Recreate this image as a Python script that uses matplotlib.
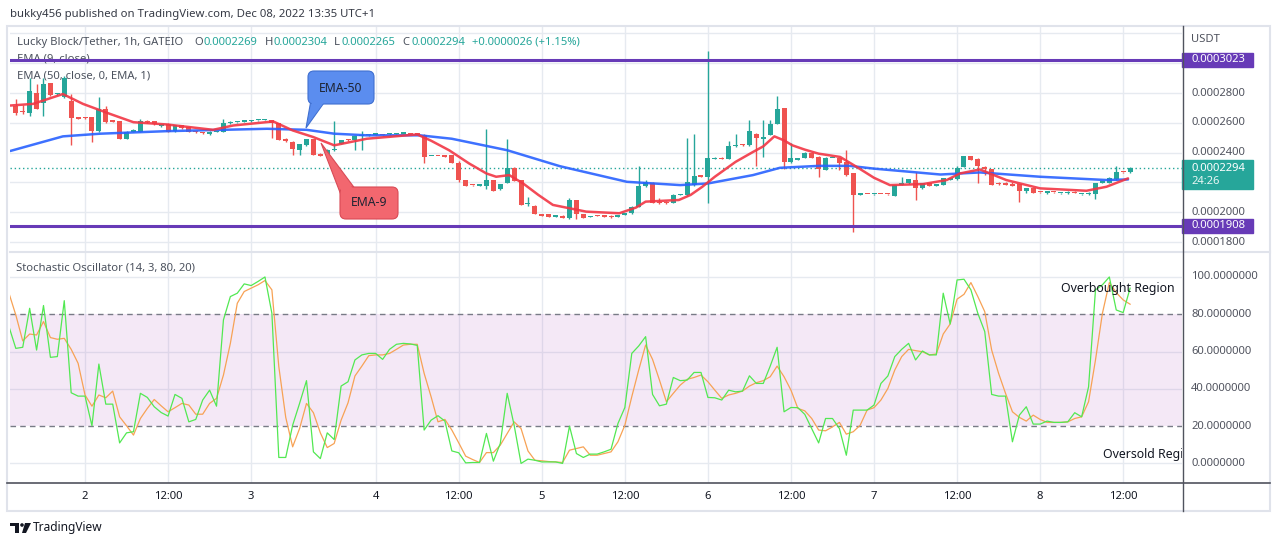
import numpy as np
import matplotlib
matplotlib.use("Agg")
import matplotlib.pyplot as plt
from matplotlib.patches import Rectangle, FancyBboxPatch, Polygon, Circle

plt.rcParams['font.family'] = ['Noto Sans', 'DejaVu Sans']

W, H = 1280, 546
U = 1e-7  # price unit used in the arrays below

# ---------------- data (prices in units of 1e-7 USDT) ----------------
opens = [2716, 2682, 2665, 2800, 2731, 2864, 2790, 2771, 2749, 2638,
         2636, 2638, 2544, 2693, 2611, 2609, 2493, 2540, 2538, 2612,
         2609, 2580, 2593, 2545, 2582, 2571, 2545, 2535, 2522, 2538,
         2538, 2600, 2604, 2608, 2609, 2616, 2618, 2616, 2598, 2493,
         2471, 2416, 2449, 2489, 2393, 2387, 2416, 2460, 2489, 2482,
         2509, 2515, 2520, 2517, 2522, 2526, 2527, 2523, 2523, 2516,
         2378, 2378, 2382, 2382, 2333, 2216, 2181, 2179, 2178, 2216,
         2153, 2198, 2298, 2216, 2053, 2044, 1989, 1987, 1970, 1976,
         1960, 2082, 1989, 1969, 1977, 1972, 1976, 1967, 1982, 1993,
         2038, 2178, 2198, 2071, 2071, 2064, 2116, 2116, 2182, 2249,
         2238, 2358, 2367, 2358, 2442, 2455, 2449, 2527, 2493, 2520,
         2593, 2700, 2338, 2353, 2367, 2400, 2371, 2282, 2363, 2364,
         2338, 2260, 2118, 2123, 2119, 2123, 2123, 2111, 2182, 2193,
         2216, 2160, 2193, 2176, 2182, 2216, 2220, 2304, 2376, 2360,
         2304, 2287, 2198, 2198, 2189, 2189, 2144, 2160, 2134, 2127,
         2134, 2126, 2127, 2132, 2121, 2120, 2122, 2198, 2198, 2220,
         2270, 2269]
highs = [2760, 2720, 2904, 2860, 2904, 2870, 2800, 2915, 2793, 2640,
         2640, 2640, 2771, 2710, 2612, 2612, 2545, 2560, 2625, 2618,
         2612, 2595, 2600, 2585, 2585, 2575, 2548, 2540, 2545, 2546,
         2627, 2612, 2608, 2612, 2618, 2620, 2624, 2620, 2600, 2495,
         2475, 2460, 2490, 2490, 2395, 2425, 2609, 2485, 2490, 2510,
         2544, 2518, 2524, 2518, 2530, 2530, 2530, 2524, 2525, 2525,
         2380, 2380, 2384, 2385, 2342, 2218, 2183, 2183, 2556, 2218,
         2192, 2489, 2305, 2218, 2104, 2046, 1991, 1989, 1973, 1978,
         2093, 2085, 1991, 1973, 1978, 1973, 1978, 1984, 1998, 2045,
         2309, 2216, 2204, 2093, 2075, 2120, 2125, 2498, 2527, 2252,
         3082, 2370, 2369, 2476, 2527, 2460, 2622, 2530, 2620, 2622,
         2782, 2702, 2464, 2367, 2405, 2402, 2375, 2370, 2366, 2366,
         2416, 2262, 2124, 2124, 2124, 2124, 2124, 2185, 2238, 2222,
         2271, 2195, 2195, 2190, 2230, 2230, 2310, 2380, 2378, 2362,
         2311, 2290, 2200, 2200, 2204, 2192, 2162, 2162, 2136, 2144,
         2136, 2129, 2140, 2140, 2125, 2133, 2198, 2206, 2233, 2311,
         2272, 2304]
lows = [2655, 2660, 2649, 2690, 2649, 2780, 2785, 2765, 2449, 2625,
        2627, 2471, 2540, 2600, 2605, 2490, 2490, 2535, 2535, 2600,
        2585, 2570, 2535, 2540, 2560, 2535, 2530, 2525, 2520, 2535,
        2535, 2595, 2602, 2606, 2608, 2614, 2617, 2500, 2485, 2470,
        2387, 2387, 2445, 2385, 2375, 2385, 2412, 2455, 2478, 2416,
        2416, 2512, 2519, 2514, 2520, 2524, 2526, 2521, 2520, 2327,
        2376, 2376, 2370, 2330, 2204, 2176, 2179, 2178, 2153, 2140,
        2150, 2195, 2208, 2047, 2044, 1985, 1975, 1966, 1969, 1958,
        1956, 1953, 1958, 1968, 1974, 1969, 1964, 1965, 1980, 1990,
        2035, 2170, 2060, 2058, 2058, 2062, 2114, 2112, 2178, 2236,
        2064, 2355, 2355, 2355, 2440, 2447, 2446, 2309, 2371, 2515,
        2590, 2287, 2330, 2350, 2364, 2364, 2238, 2280, 2361, 2282,
        2245, 1864, 2117, 2120, 2118, 2120, 2115, 2109, 2180, 2190,
        2082, 2158, 2176, 2174, 2180, 2214, 2218, 2302, 2352, 2193,
        2249, 2180, 2186, 2180, 2176, 2071, 2131, 2129, 2130, 2125,
        2130, 2124, 2125, 2128, 2118, 2118, 2089, 2196, 2196, 2218,
        2264, 2265]
closes = [2664, 2671, 2815, 2693, 2860, 2787, 2795, 2900, 2633, 2627,
          2630, 2544, 2693, 2604, 2607, 2493, 2538, 2555, 2615, 2605,
          2590, 2585, 2538, 2582, 2565, 2538, 2535, 2530, 2540, 2544,
          2598, 2607, 2605, 2609, 2616, 2617, 2621, 2598, 2487, 2476,
          2427, 2456, 2489, 2387, 2378, 2420, 2420, 2482, 2482, 2509,
          2516, 2516, 2522, 2516, 2527, 2528, 2528, 2522, 2521, 2371,
          2379, 2377, 2371, 2331, 2216, 2178, 2180, 2182, 2216, 2144,
          2189, 2298, 2211, 2049, 2060, 1987, 1977, 1968, 1972, 1960,
          2082, 1989, 1962, 1971, 1975, 1970, 1966, 1982, 1993, 2038,
          2178, 2204, 2064, 2060, 2060, 2116, 2122, 2204, 2242, 2238,
          2364, 2367, 2358, 2442, 2449, 2449, 2544, 2500, 2495, 2593,
          2693, 2338, 2367, 2364, 2400, 2367, 2287, 2364, 2365, 2331,
          2249, 2116, 2120, 2121, 2121, 2121, 2120, 2182, 2198, 2220,
          2164, 2193, 2178, 2187, 2227, 2227, 2298, 2376, 2353, 2309,
          2287, 2182, 2187, 2182, 2178, 2144, 2160, 2131, 2133, 2142,
          2133, 2128, 2138, 2130, 2123, 2131, 2193, 2204, 2231, 2271,
          2267, 2294]

# EMA readings (bar index, value)
ema9_x = [-0.8, 2.5, 6.8, 9.7, 13.6, 17, 21.8, 28.5, 31.4, 37.2, 40, 43, 46,
          50.7, 58, 60, 62.6, 65.5, 68, 69.4, 71.3, 73.3, 75.5, 77.6, 82.4,
          87.2, 89.6, 91, 95.8, 97.5, 99.2, 101, 104, 106.5, 108, 109.6, 111,
          112.2, 114, 116, 119.1, 121.5, 124, 126.3, 131.1, 134.5, 136.4,
          139.3, 143.1, 148, 154.7, 157.6, 160.7]
ema9_y = [2716, 2727, 2793, 2727, 2660, 2604, 2589, 2553, 2582, 2609, 2549,
          2504, 2449, 2493, 2522, 2480, 2416, 2327, 2260, 2238, 2249, 2193,
          2116, 2049, 2004, 1993, 2031, 2071, 2082, 2116, 2171, 2238, 2338,
          2404, 2442, 2509, 2482, 2449, 2420, 2393, 2371, 2304, 2231, 2182,
          2189, 2216, 2260, 2287, 2216, 2160, 2144, 2171, 2227]
ema50_x = [-0.8, 6.8, 12.2, 21.8, 36.3, 42, 46, 50.7, 58.4, 63, 71, 78.6,
           88.3, 96, 100, 106.5, 110.4, 116, 120.5, 123.9, 133.6, 139.3,
           148, 157.6, 160.7]
ema50_y = [2411, 2509, 2527, 2544, 2560, 2553, 2527, 2516, 2516, 2493, 2416,
           2309, 2204, 2182, 2193, 2249, 2298, 2311, 2311, 2293, 2253, 2267,
           2238, 2216, 2220]

# Stochastic (14,3): first value belongs to bar index -1
stoch_k = [73.5,
           61.7, 62.3, 83.2, 60.8, 84.7, 56.9, 57.3, 87.3, 37.9, 36.1,
           36.1, 20.2, 53.3, 31.8, 31.8, 11.0, 16.4, 17.0, 37.6, 35.4,
           30.4, 27.3, 25.4, 37.0, 34.9, 22.3, 23.6, 34.0, 39.3, 30.7,
           77.0, 89.5, 91.3, 96.3, 95.4, 97.6, 100.0, 80.5, 3.2, 3.2,
           20.5, 32.2, 44.4, 6.2, 2.6, 16.4, 12.8, 41.5, 43.8, 55.5,
           58.2, 59.0, 59.0, 55.8, 61.2, 63.9, 64.4, 64.1, 63.3, 17.9,
           23.2, 25.6, 22.7, 6.7, 5.7, 0.3, 0.5, 0.5, 16.1, 1.2,
           10.7, 37.6, 20.5, 0.0, 2.3, 1.7, 0.8, 0.8, 0.8, 0.0,
           20.0, 5.3, 3.2, 5.0, 5.0, 6.2, 7.6, 21.4, 30.0, 59.0,
           63.0, 68.0, 37.0, 30.9, 31.8, 46.1, 44.4, 44.7, 48.8, 48.8,
           35.4, 35.2, 34.0, 39.3, 38.4, 38.8, 47.0, 42.9, 42.9, 52.2,
           62.3, 27.7, 30.0, 29.9, 26.3, 18.7, 11.0, 24.1, 24.1, 18.7,
           4.4, 28.6, 28.6, 28.6, 31.3, 42.9, 46.9, 57.3, 61.2, 64.4,
           55.5, 60.3, 58.2, 58.2, 91.3, 74.8, 98.4, 98.8, 93.1, 80.5,
           70.7, 37.0, 36.1, 36.1, 11.6, 25.9, 30.4, 21.1, 21.1, 22.7,
           22.0, 22.0, 22.3, 27.2, 25.0, 41.1, 93.1, 95.8, 100.0, 82.3,
           80.9, 94.0]
stoch_d = [91.4,
           79.6, 65.7, 69.4, 68.9, 76.1, 67.5, 66.6, 67.1, 61.2, 53.7,
           36.7, 30.7, 36.7, 35.2, 38.8, 25.0, 20.2, 15.2, 24.1, 29.5,
           34.3, 30.9, 27.7, 29.9, 32.2, 31.3, 26.4, 26.4, 32.2, 34.9,
           47.4, 64.4, 85.9, 92.2, 94.0, 95.8, 98.1, 93.1, 51.9, 24.7,
           8.9, 18.7, 32.2, 27.2, 16.4, 8.5, 10.7, 23.2, 32.5, 46.9,
           52.2, 57.8, 58.2, 58.2, 59.0, 61.2, 63.5, 63.9, 63.9, 48.3,
           35.8, 22.3, 23.6, 17.9, 11.0, 3.9, 2.1, 0.5, 5.8, 5.8,
           9.8, 16.1, 22.3, 18.7, 6.7, 1.7, 1.4, 1.0, 0.8, 0.5,
           7.1, 8.0, 8.9, 4.4, 4.4, 5.3, 6.2, 11.6, 20.5, 35.8,
           50.1, 63.5, 55.8, 44.7, 33.1, 37.6, 42.0, 45.1, 46.1, 47.4,
           43.8, 39.3, 34.9, 36.7, 37.6, 38.8, 41.5, 43.3, 44.4, 46.5,
           52.2, 46.5, 39.3, 29.5, 28.2, 24.1, 17.9, 17.5, 19.6, 22.0,
           15.7, 17.0, 20.5, 28.6, 29.9, 34.0, 40.2, 50.1, 57.3, 61.2,
           60.5, 59.9, 58.2, 58.7, 69.4, 74.8, 88.1, 90.7, 97.0, 89.5,
           81.4, 60.8, 48.3, 37.6, 27.7, 24.7, 22.7, 25.9, 23.6, 22.0,
           22.0, 22.0, 22.3, 24.1, 25.0, 33.1, 55.5, 80.5, 97.0, 91.6,
           87.7, 85.4]

tick_pos = [10, 22, 34, 52, 64, 76, 88, 100, 112, 124, 136, 148, 160]
tick_labels = ['2', '12:00', '3', '4', '12:00', '5', '12:00', '6', '12:00',
               '7', '12:00', '8', '12:00']

resistance = 0.0003023
support = 0.0001908
last_price = 0.0002294
countdown = '24:26'
price_labels = [0.00018, 0.00020, 0.00024, 0.00026, 0.00028]
price_grid = [0.00018, 0.00020, 0.00022, 0.00024, 0.00026, 0.00028,
              0.00030, 0.00032]
stoch_labels = [100, 80, 60, 40, 20, 0]
stoch_grid = [100, 60, 40, 0]
ob_level, os_level = 80, 20

# ---------------- figure ----------------
GREEN = '#26a69a'
RED = '#ef5350'
GRID = '#e6eaf0'
TXT = '#131722'
PURPLE = '#673ab7'

fig = plt.figure(figsize=(W / 100, H / 100), dpi=100)
fig.patch.set_facecolor('white')


def rect(x0, y0, x1, y1):
    return [x0 / W, 1 - y1 / H, (x1 - x0) / W, (y1 - y0) / H]


ax1 = fig.add_axes(rect(10, 27, 1182, 252), zorder=1)
ax2 = fig.add_axes(rect(10, 252, 1182, 483), zorder=1, sharex=ax1)
for ax in (ax1, ax2):
    ax.set_facecolor('none')
    for s in ax.spines.values():
        s.set_visible(False)
    ax.tick_params(left=False, right=False, top=False, labelleft=False)

x_lo, x_hi = -0.84, 168.5
ax1.set_xlim(x_lo, x_hi)
ax1.set_ylim(1733 * U, 3243 * U)
ax2.set_ylim(-10.5, 113.4)

# grids
for t in tick_pos:
    ax1.axvline(t, color=GRID, lw=1, zorder=0)
    ax2.axvline(t, color=GRID, lw=1, zorder=0)
for g in price_grid:
    ax1.axhline(g, color=GRID, lw=1, zorder=0)
for g in stoch_grid:
    ax2.axhline(g, color=GRID, lw=1, zorder=0)

# candles
o = np.array(opens) * U
h = np.array(highs) * U
l = np.array(lows) * U
c = np.array(closes) * U
idx = np.arange(len(o))
cols = np.where(c >= o, GREEN, RED)
ppx = (3243 - 1733) * U / 225.0  # price per pixel
bottom = np.minimum(o, c)
height = np.maximum(np.abs(c - o), 1.3 * ppx)
ax1.vlines(idx, l, h, colors=cols, lw=1, zorder=3)
ax1.bar(idx, height, bottom=bottom, width=0.72, color=cols, zorder=3,
        linewidth=0)

# EMAs
ax1.plot(ema50_x, np.array(ema50_y) * U, color='#2962ff', lw=1.8,
         alpha=0.9, zorder=4, solid_capstyle='round')
ax1.plot(ema9_x, np.array(ema9_y) * U, color='#f23645', lw=1.8,
         alpha=0.9, zorder=4, solid_capstyle='round')

# support / resistance + last price
ax1.axhline(resistance, color=PURPLE, lw=2.2, zorder=5)
ax1.axhline(support, color=PURPLE, lw=2.2, zorder=5)
ax1.axhline(last_price, color=GREEN, lw=1, ls=(0, (1, 2)), zorder=2)

# header texts in main pane
def a1(px, py):
    return ((px - 10) / 1172.0, 1 - (py - 27) / 225.0)

FS = 8.1
ax1.text(*a1(17, 42.5), 'Lucky Block/Tether, 1h, GATEIO', transform=ax1.transAxes,
         fontsize=FS, color='#4c525e', va='center', zorder=2)
pieces = [(194, 'O', '#4c525e'), (204, '0.0002269', GREEN),
          (265, 'H', '#4c525e'), (274, '0.0002304', GREEN),
          (334, 'L', '#4c525e'), (342, '0.0002265', GREEN),
          (402, 'C', '#4c525e'), (411, '0.0002294', GREEN),
          (472, '+0.0000026 (+1.15%)', GREEN)]
for px, s, col in pieces:
    ax1.text(*a1(px, 42.5), s, transform=ax1.transAxes, fontsize=FS,
             color=col, va='center', zorder=2)
ax1.text(*a1(17, 59), 'EMA (9, close)', transform=ax1.transAxes, fontsize=FS,
         color='#4c525e', va='center', zorder=2)
ax1.text(*a1(17, 76), 'EMA (50, close, 0, EMA, 1)', transform=ax1.transAxes,
         fontsize=FS, color='#4c525e', va='center', zorder=2)

# price axis labels
yt = ax1.get_yaxis_transform()
LX = (1191 - 10) / 1172.0
BX1 = (1253 - 10) / 1172.0
ax1.text(LX, 3243 * U - 13 * ppx, 'USDT', transform=yt, fontsize=FS,
         color='#50535e', va='center', clip_on=False)
for p in price_labels:
    ax1.text(LX, p, f'{p:.7f}', transform=yt, fontsize=FS, color='#50535e',
             va='center', clip_on=False)
for p in (resistance, support):
    ax1.add_patch(Rectangle((1.0, p - 7 * ppx), BX1 - 1.0, 14 * ppx,
                            transform=yt, color=PURPLE, clip_on=False,
                            zorder=6))
    ax1.text(LX, p, f'{p:.7f}', transform=yt, fontsize=FS, color='white',
             weight='bold', va='center', clip_on=False, zorder=7)
ax1.add_patch(Rectangle((1.0, last_price - 20.5 * ppx), BX1 - 1.0, 29 * ppx,
                        transform=yt, color=GREEN, clip_on=False, zorder=6))
ax1.text(LX, last_price, f'{last_price:.7f}', transform=yt, fontsize=FS,
         color='white', weight='bold', va='center', clip_on=False, zorder=7)
ax1.text(LX, last_price - 13.5 * ppx, countdown, transform=yt, fontsize=FS,
         color='#e8f6f4', va='center', clip_on=False, zorder=7)

# stochastic pane
ax2.axhspan(os_level, ob_level, color='#9c27b0', alpha=0.1, lw=0, zorder=1)
ax2.axhline(ob_level, color='#787b86', lw=1, ls=(0, (4, 3)), zorder=2)
ax2.axhline(os_level, color='#787b86', lw=1, ls=(0, (4, 3)), zorder=2)
sx = np.arange(-1, -1 + len(stoch_k))
ax2.plot(sx, stoch_k, color='#52e852', lw=0.9, zorder=4)
ax2.plot(sx, stoch_d, color='#f7a255', lw=0.9, zorder=3)
ax2.text(6 / 1172.0, 1 - 16 / 231.0, 'Stochastic Oscillator (14, 3, 80, 20)',
         transform=ax2.transAxes, fontsize=FS, color='#4c525e', va='center')
ax2.text(151.0, 94.0, 'Overbought Region', fontsize=8.9, color=TXT,
         va='center', zorder=5)
ax2.text(157.1, 5.0, 'Oversold Region', fontsize=8.9, color=TXT,
         va='center', zorder=5, clip_on=True)
yt2 = ax2.get_yaxis_transform()
for v in stoch_labels:
    ax2.text(LX, v, f'{v:.7f}', transform=yt2, fontsize=FS, color='#50535e',
             va='center', clip_on=False)

ax2.set_xticks(tick_pos)
ax2.set_xticklabels(tick_labels)
ax2.tick_params(axis='x', length=0, pad=6, labelsize=FS, labelcolor=TXT)
ax1.tick_params(axis='x', labelbottom=False, length=0)

# ---------------- overlay: frame, separators, callouts, captions ----------------
fg = fig.add_axes([0, 0, 1, 1], zorder=10)
fg.set_xlim(0, W)
fg.set_ylim(H, 0)
fg.axis('off')
fg.patch.set_alpha(0)

fg.add_patch(Rectangle((7, 26), 1263, 485, fill=False, ec='#e0e3eb', lw=1.5))
fg.plot([10, 1270], [252, 252], color='#e0e3eb', lw=1.5)
fg.plot([7, 1270], [483, 483], color='#50535e', lw=1.2)
fg.plot([1183, 1183], [26, 511], color='#50535e', lw=1.0)

fig.text(10 / W, 1 - 15 / H,
         'bukky456 published on TradingView.com, Dec 08, 2022 13:35 UTC+1',
         fontsize=8.2, color='#363a45', va='center')

# EMA-50 callout
c50 = '#5b8def'
fg.add_patch(Polygon([(311, 100), (326, 100), (306, 128)], closed=True,
                     fc=c50, ec='#3f6fd0', lw=0.8))
fg.add_patch(FancyBboxPatch((308, 71), 66, 33,
                            boxstyle='round,pad=0,rounding_size=6',
                            fc=c50, ec='#3f6fd0', lw=0.8))
fg.add_patch(Polygon([(312, 101), (325, 101), (309, 122)], closed=True,
                     fc=c50, ec='none'))
fg.text(341, 88, 'EMA-50', fontsize=8.8, color='#1e2433', ha='center',
        va='center')

# EMA-9 callout
c9 = '#f2676f'
fg.add_patch(Polygon([(321, 143), (341, 195), (356, 190)], closed=True,
                     fc=c9, ec='#d94a55', lw=0.8))
fg.add_patch(FancyBboxPatch((340, 187), 58, 32,
                            boxstyle='round,pad=0,rounding_size=6',
                            fc=c9, ec='#d94a55', lw=0.8))
fg.add_patch(Polygon([(325, 152), (342, 193), (354, 190)], closed=True,
                     fc=c9, ec='none'))
fg.text(369, 203, 'EMA-9', fontsize=8.8, color='#1e2433', ha='center',
        va='center')

# TradingView logo + caption
fg.add_patch(Polygon([(10, 523), (19, 523), (19, 533), (15, 533), (15, 526),
                      (10, 526)], closed=True, fc=TXT, ec='none'))
fg.add_patch(Circle((22, 525), 1.8, fc=TXT, ec='none'))
fg.add_patch(Polygon([(25, 523), (31, 523), (26, 533), (22, 533)],
                     closed=True, fc=TXT, ec='none'))
fg.text(33, 528, 'TradingView', fontsize=8.6, color=TXT, va='center')

fig.savefig('out.png', dpi=100, facecolor='white')
